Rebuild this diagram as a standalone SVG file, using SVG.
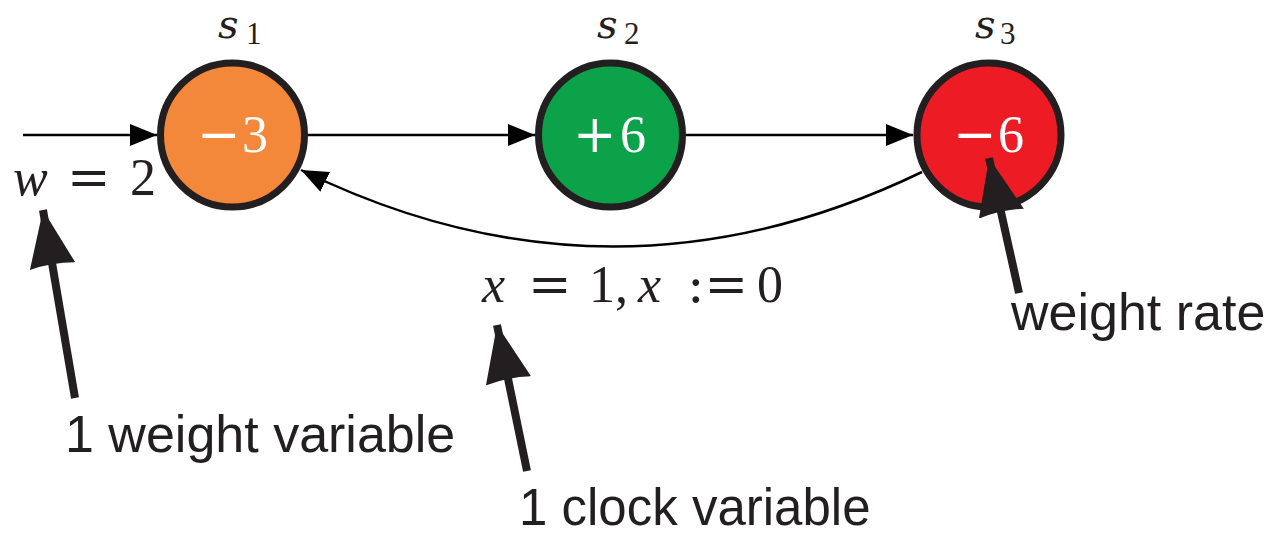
<svg xmlns="http://www.w3.org/2000/svg" width="1278" height="536" viewBox="0 0 1278 536">
<style>
.m{font-family:"Liberation Serif",serif;font-size:52px;fill:#231F20}
.i{font-style:italic}
.op{font-family:"DejaVu Serif",serif}
.w{fill:#FFFFFF}
.lbl{font-family:"DejaVu Serif",serif;font-size:40px}
.sub{font-size:31px}
.sans{font-family:"Liberation Sans",sans-serif;font-size:52px;fill:#231F20}
.node{stroke:#231F20;stroke-width:7}
.thin{fill:none;stroke:#000;stroke-width:2.5}
.thick{fill:none;stroke:#231F20;stroke-width:8}
</style>
<defs>
<marker id="ah" markerUnits="userSpaceOnUse" markerWidth="30" markerHeight="24" refX="27" refY="11" orient="auto"><path d="M0,0 L27,11 L0,22 z" fill="#000"/></marker>
<marker id="big" markerUnits="userSpaceOnUse" markerWidth="60" markerHeight="48" refX="57" refY="23" orient="auto"><path d="M0,0 L57,23 L0,46 Q4,23 0,0 z" fill="#231F20"/></marker>
</defs>
<g id="connectors">
<line class="thin" x1="23" y1="135" x2="157" y2="135" marker-end="url(#ah)"/>
<line class="thin" x1="308" y1="135" x2="535" y2="135" marker-end="url(#ah)"/>
<line class="thin" x1="686" y1="135" x2="913" y2="135" marker-end="url(#ah)"/>
<path class="thin" d="M922,172 Q611,322 301,170" marker-end="url(#ah)"/>
</g>
<g id="s1">
<circle class="node" cx="232.5" cy="135" r="72" fill="#F3873A"/>
<text class="m w" y="152"><tspan class="op" x="197">−</tspan><tspan x="242">3</tspan></text>
<text class="m i lbl" x="218" y="38">s</text>
<text class="m sub" x="246" y="44">1</text>
</g>
<g id="s2">
<circle class="node" cx="610.5" cy="135" r="72" fill="#0BA24A"/>
<text class="m w" y="152"><tspan class="op" x="573">+</tspan><tspan x="620">6</tspan></text>
<text class="m i lbl" x="597" y="38">s</text>
<text class="m sub" x="624" y="44">2</text>
</g>
<g id="s3">
<circle class="node" cx="989" cy="135" r="72" fill="#ED1C24"/>
<text class="m w" y="152"><tspan class="op" x="953">−</tspan><tspan x="998">6</tspan></text>
<text class="m i lbl" x="975" y="38">s</text>
<text class="m sub" x="1000" y="44">3</text>
</g>
<g id="init-label">
<text class="m" y="195"><tspan class="i" x="13">w</tspan><tspan class="op" x="67">=</tspan><tspan x="130">2</tspan></text>
</g>
<g id="edge-label">
<text class="m" y="302"><tspan class="i" x="482">x</tspan><tspan class="op" x="528">=</tspan><tspan x="589">1,</tspan><tspan class="i" x="638">x</tspan><tspan class="op" x="687">:=</tspan><tspan x="757">0</tspan></text>
</g>
<g id="annot-weight-variable">
<line class="thick" x1="75" y1="398" x2="43" y2="210" marker-end="url(#big)"/>
<text class="sans" x="65" y="452">1 weight variable</text>
</g>
<g id="annot-clock-variable">
<line class="thick" x1="527" y1="471" x2="497" y2="325" marker-end="url(#big)"/>
<text class="sans" x="519" y="525" style="font-size:51px">1 clock variable</text>
</g>
<g id="annot-weight-rate">
<line class="thick" x1="1019" y1="293" x2="989" y2="158" marker-end="url(#big)"/>
<text class="sans" x="1011" y="330">weight rate</text>
</g>
</svg>
